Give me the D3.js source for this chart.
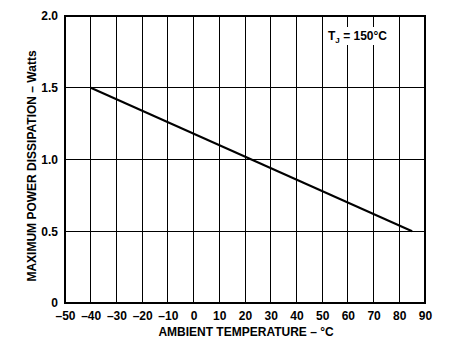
<!DOCTYPE html>
<html><head><meta charset="utf-8">
<script src="https://cdn.jsdelivr.net/npm/d3@7"></script>
<style>body{margin:0;background:#fff}text{font-family:"Liberation Sans",Arial,sans-serif;font-weight:bold;fill:#000}</style>
</head><body>
<svg id="c" width="452" height="346"></svg>
<script>
const xTicks = [-50,-40,-30,-20,-10,0,10,20,30,40,50,60,70,80,90];
const yTicks = [0,0.5,1.0,1.5,2.0];
const yTickLabels = ["0","0.5","1.0","1.5","2.0"];
const temps = [-40, 85];
const power = [1.5, 0.5];

const svg = d3.select("#c");
const L=65,R=425,T=16,B=303;
const x = d3.scaleLinear().domain([-50,90]).range([L,R]);
const y = d3.scaleLinear().domain([0,2]).range([B,T]);

// grid
svg.append("g").selectAll("line").data(xTicks.slice(1,-1)).join("line")
  .attr("x1",d=>x(d)).attr("x2",d=>x(d)).attr("y1",T).attr("y2",B)
  .attr("stroke","#000").attr("stroke-width",1).attr("shape-rendering","crispEdges");
svg.append("g").selectAll("line").data(yTicks.slice(1,-1)).join("line")
  .attr("x1",L).attr("x2",R).attr("y1",d=>y(d)).attr("y2",d=>y(d))
  .attr("stroke","#000").attr("stroke-width",1).attr("shape-rendering","crispEdges");

// annotation box
svg.append("rect").attr("x",326).attr("y",27).attr("width",62).attr("height",18).attr("fill","#fff");
const ann = svg.append("text").attr("x",328).attr("y",40).attr("font-size",12);
ann.append("tspan").text("T");
ann.append("tspan").attr("font-size",8).attr("dy",3).text("J");
ann.append("tspan").attr("dy",-3).text(" = 150°C");

// border
svg.append("rect").attr("x",L).attr("y",T).attr("width",R-L).attr("height",B-T)
  .attr("fill","none").attr("stroke","#000").attr("stroke-width",2);

// data line
const line = d3.line().x((d,i)=>x(temps[i])).y((d,i)=>y(power[i]));
svg.append("path").datum(temps).attr("d",line).attr("fill","none").attr("stroke","#000").attr("stroke-width",2);

// axes labels
const xAxis = d3.axisBottom(x).tickValues(xTicks).tickSize(0).tickPadding(8)
  .tickFormat(d=>d<0?"\u2013"+(-d):String(d));
const gx = svg.append("g").attr("transform",`translate(0,${B})`).call(xAxis);
gx.select(".domain").remove();
gx.selectAll("text").attr("font-size",12).attr("font-family","Liberation Sans, Arial, sans-serif").attr("font-weight","bold");

const yAxis = d3.axisLeft(y).tickValues(yTicks).tickSize(0).tickPadding(7)
  .tickFormat((d,i)=>yTickLabels[i]);
const gy = svg.append("g").attr("transform",`translate(${L},0)`).call(yAxis);
gy.select(".domain").remove();
gy.selectAll("text").attr("font-size",12).attr("font-family","Liberation Sans, Arial, sans-serif").attr("font-weight","bold");

svg.append("text").attr("x",246).attr("y",336).attr("text-anchor","middle").attr("font-size",12)
  .text("AMBIENT TEMPERATURE \u2013 °C");
svg.append("text").attr("transform","translate(36,166) rotate(-90)").attr("text-anchor","middle").attr("font-size",12)
  .text("MAXIMUM POWER DISSIPATION \u2013 Watts");
</script>
</body></html>
